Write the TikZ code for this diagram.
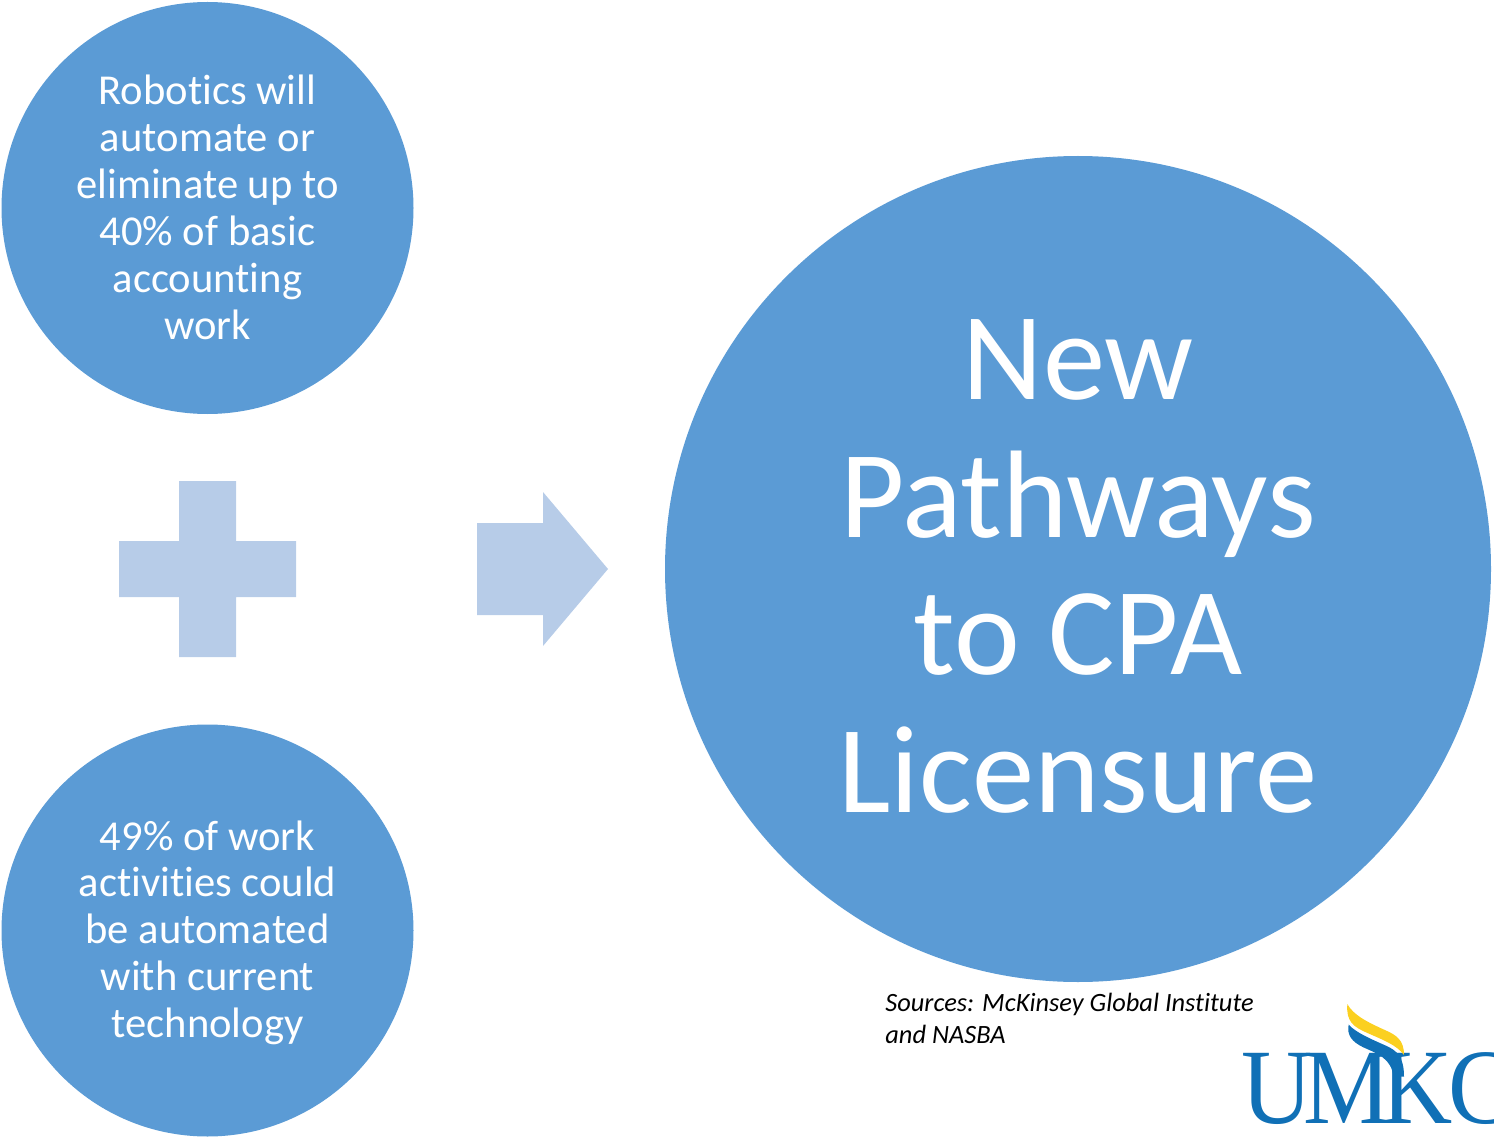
\documentclass[tikz,border=0pt]{standalone}
\usepackage{fontspec}
\setmainfont[Ligatures=NoCommon]{Carlito}
\newfontfamily\logofont{Liberation Serif}
\definecolor{circleblue}{HTML}{5B9BD5}
\definecolor{lightblue}{HTML}{B7CCE8}
\definecolor{logoblue}{HTML}{1070B6}
\definecolor{logoyellow}{HTML}{FBD020}

\begin{document}
\begin{tikzpicture}[x=0.5pt,y=-0.5pt,node distance=361.25pt,
    smallcircle/.style={circle,fill=circleblue,text=white,inner sep=0pt,minimum size=206pt,align=center,
        font=\fontsize{21.3}{23.45}\selectfont},
    bigcircle/.style={circle,fill=circleblue,text=white,inner sep=0pt,minimum size=413pt,align=center,
        font=\fontsize{62.3}{68.8}\selectfont},
    sign/.style={fill=lightblue}]
            \useasboundingbox (0,0) rectangle (1494,1139);

            \node[smallcircle] (robotics) at (207.5,208) {Robotics will\\automate or\\eliminate up to\\40\% of basic\\accounting\\work\rule[-1pt]{0pt}{0pt}};
            \node[smallcircle] (activities) [below of=robotics] {\rule{0pt}{17pt}49\% of work\\activities could\\be automated\\with current\\technology};
            \node[bigcircle] (pathways) at (1078,569) {New\\Pathways\\to CPA\\Licensure\rule[-3pt]{0pt}{0pt}};

            % plus and arrow
            \fill[sign] (179,481) -- (236,481) -- (236,541) -- (296,541) -- (296,597) -- (236,597)
                -- (236,657) -- (179,657) -- (179,597) -- (119,597) -- (119,541) -- (179,541) -- cycle;
            \fill[sign] (477,523) -- (543,523) -- (543,492) -- (608,569) -- (543,646) -- (543,615) -- (477,615) -- cycle;

            \node[anchor=north west,inner sep=0pt,align=left,font=\fontsize{13.2}{16}\selectfont\itshape] (sources) at (885,993)
                {Sources: McKinsey Global Institute\\and NASBA};

            % logo
            \node[anchor=base west,inner sep=0pt,xscale=0.92,text=logoblue,font=\fontsize{53.6}{54}\logofont] (umkc) at (1241,1123)
                {U\kern-5pt M\kern-5pt K\kern-2.7pt C};
            \begin{scope}[shift={(1220,990)},scale=1/3]
                \fill[logoyellow] (382,42) .. controls (400,75) and (440,95) .. (490,118)
                    .. controls (530,135) and (552,150) .. (552,195)
                    .. controls (530,165) and (490,150) .. (440,128)
                    .. controls (400,110) and (378,95) .. cycle;
                \fill[logoblue] (386,104) .. controls (410,130) and (460,150) .. (500,168)
                    .. controls (530,182) and (552,200) .. (552,260) -- (520,260)
                    .. controls (515,205) and (470,190) .. (430,172)
                    .. controls (395,155) and (380,135) .. cycle;
            \end{scope}
        \end{tikzpicture}
\end{document}
